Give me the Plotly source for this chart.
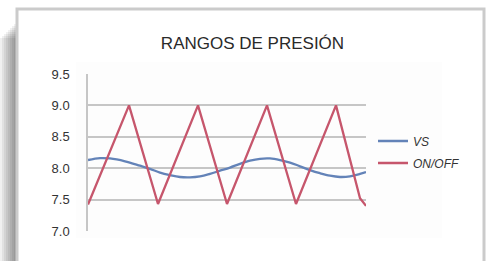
import plotly.graph_objects as go

# ---- data ----
time_vs = [0, 12, 22, 37, 52, 62, 72, 82, 92, 102, 112, 122, 132, 142, 152, 162,
           172, 182, 192, 202, 212, 222, 232, 242, 252, 262, 272, 278]
pres_vs = [8.13, 8.16, 8.155, 8.11, 8.04, 7.99, 7.93, 7.89, 7.86, 7.855, 7.87, 7.91,
           7.96, 8.01, 8.07, 8.12, 8.15, 8.155, 8.13, 8.09, 8.03, 7.97, 7.92, 7.88,
           7.86, 7.87, 7.91, 7.94]
time_onoff = [0, 41, 70, 110, 139, 179, 208, 248, 272, 278]
pres_onoff = [7.42, 9.0, 7.43, 9.0, 7.43, 9.0, 7.43, 9.0, 7.52, 7.40]
y_ticks = [7.0, 7.5, 8.0, 8.5, 9.0, 9.5]
title_text = "RANGOS DE PRESIÓN"
names = ["VS", "ON/OFF"]

W, H = 489, 261
L, R, T, B = 88, 366, 74, 231  # plot area in pixels


def X(px):
    return (px - L) / (R - L)


def Y(py):
    return (B - py) / (B - T)


fig = go.Figure()
fig.add_trace(go.Scatter(x=time_vs, y=pres_vs, mode="lines", name=names[0],
                         legendgroup="a",
                         line=dict(color="#6383b8", width=2.3, shape="spline")))
fig.add_trace(go.Scatter(x=time_onoff, y=pres_onoff, mode="lines", name=names[1],
                         legendgroup="b",
                         line=dict(color="#c6566c", width=2.3)))

shapes = []
# left shadow of the card
for i in range(8):
    shapes.append(dict(type="rect", xref="paper", yref="paper", layer="below",
                       x0=X(16 - 2 * (i + 1)), x1=X(16), y0=Y(300), y1=Y(24 + i * 2),
                       fillcolor="rgba(0,0,0,0.06)", line=dict(width=0)))
# card
shapes.append(dict(type="rect", xref="paper", yref="paper", layer="below",
                   x0=X(17), x1=X(484), y0=Y(300), y1=Y(9),
                   fillcolor="white", line=dict(color="#cbcbcb", width=3)))
# faint chart area
shapes.append(dict(type="rect", xref="paper", yref="paper", layer="below",
                   x0=X(76), x1=X(442), y0=Y(238), y1=Y(62),
                   fillcolor="#fdfdfd", line=dict(width=0)))

fig.update_layout(
    width=W, height=H,
    margin=dict(l=L, r=W - R, t=T, b=H - B, pad=0),
    paper_bgcolor="white", plot_bgcolor="rgba(0,0,0,0)",
    shapes=shapes,
    title=dict(text=title_text, x=252.5 / W, xanchor="center", y=1 - 43 / H,
               yanchor="middle",
               font=dict(family="Liberation Sans, Arial", size=17, color="#2a2a2a")),
    xaxis=dict(range=[0, 278], showgrid=False, showticklabels=False, zeroline=False,
               showline=False, fixedrange=True),
    yaxis=dict(range=[7.0, 9.5], tickvals=y_ticks, tickformat=".1f",
               showgrid=True, gridcolor="#c6c6c6", gridwidth=1.5,
               zeroline=False, showline=True, linecolor="#c6c6c6", linewidth=1.5,
               ticks="", ticklabelstandoff=14, fixedrange=True,
               tickfont=dict(family="Liberation Sans, Arial", size=13, color="#333")),
    legend=dict(x=X(373), xanchor="left", y=Y(152), yanchor="middle",
                traceorder="grouped", tracegroupgap=3,
                bgcolor="rgba(0,0,0,0)",
                font=dict(family="Liberation Sans, Arial", size=12, color="#333",
                          style="italic")),
    showlegend=True,
)

fig.write_html("out.html", config={"displayModeBar": False},
               post_script="document.body.style.margin='0';document.body.style.overflow='hidden';")
